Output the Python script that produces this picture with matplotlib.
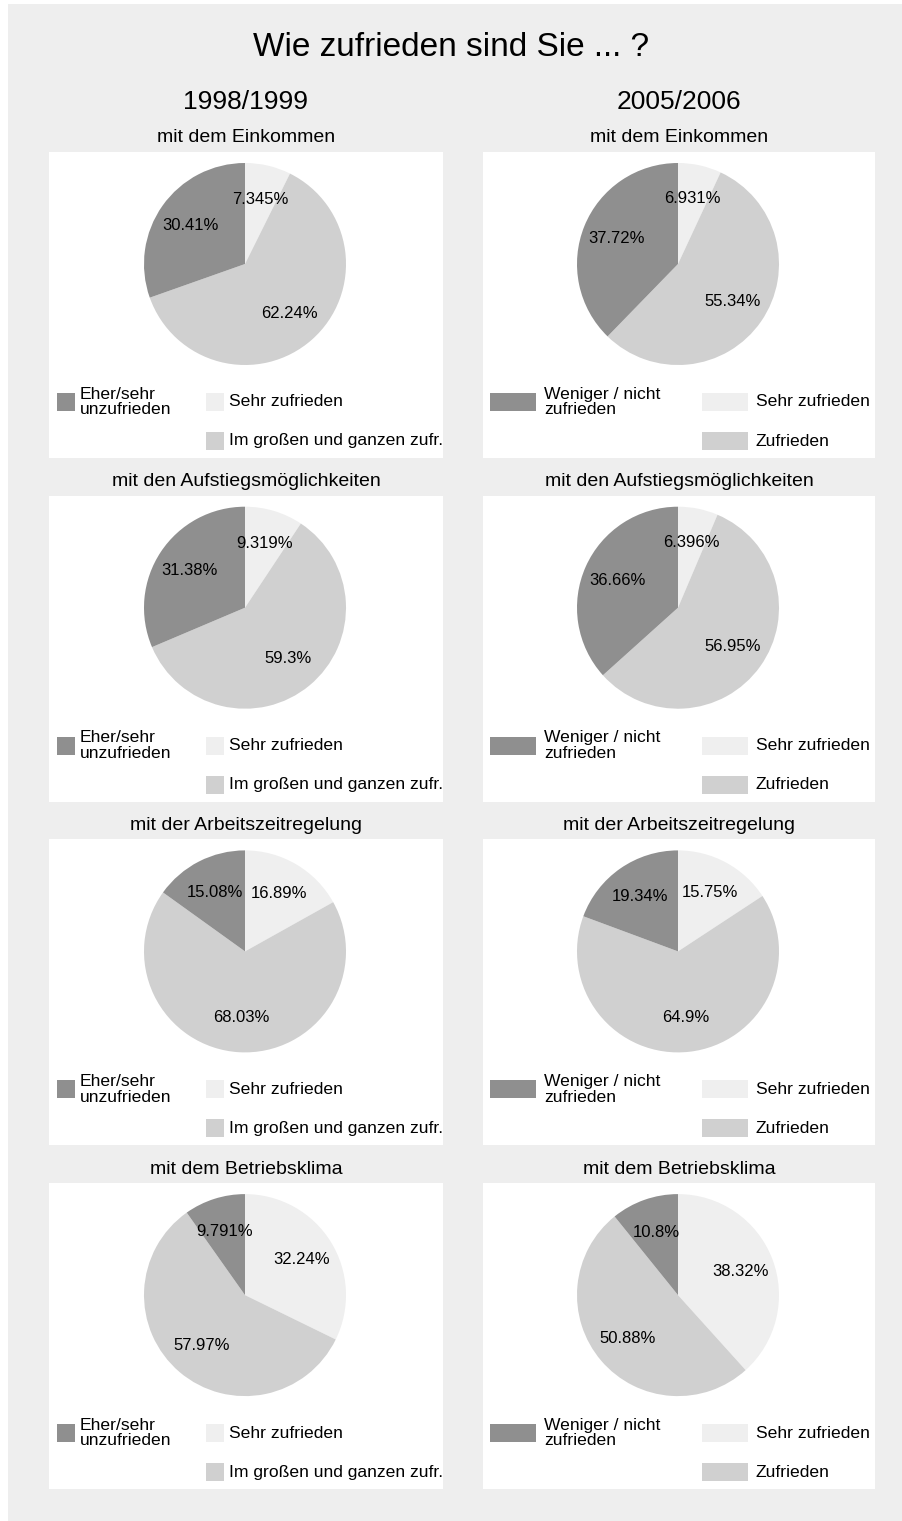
import matplotlib
matplotlib.use('Agg')
import matplotlib.pyplot as plt
from matplotlib.patches import Rectangle

plt.rcParams['font.family'] = ['Liberation Sans', 'DejaVu Sans']

# --- data -------------------------------------------------------------
title = 'Wie zufrieden sind Sie ... ?'
periods = ['1998/1999', '2005/2006']
topics = ['mit dem Einkommen', 'mit den Aufstiegsmöglichkeiten',
          'mit der Arbeitszeitregelung', 'mit dem Betriebsklima']

# slice order (clockwise from 12 o'clock): sehr zufrieden, zufrieden, unzufrieden
sehr_98 = [7.345, 9.319, 16.89, 32.24]
mittel_98 = [62.24, 59.3, 68.03, 57.97]
unzufr_98 = [30.41, 31.38, 15.08, 9.791]

sehr_05 = [6.931, 6.396, 15.75, 38.32]
mittel_05 = [55.34, 56.95, 64.9, 50.88]
unzufr_05 = [37.72, 36.66, 19.34, 10.8]

labels_98 = ['Sehr zufrieden', 'Im großen und ganzen zufr.', 'Eher/sehr\nunzufrieden']
labels_05 = ['Sehr zufrieden', 'Zufrieden', 'Weniger / nicht\nzufrieden']

colors = ['#efefef', '#d0d0d0', '#8f8f8f']
bg = '#eeeeee'

# --- layout (pixels) --------------------------------------------------
W, H = 903, 1521
fig = plt.figure(figsize=(W / 100, H / 100), dpi=100, facecolor=bg)


def fx(x):
    return x / W


def fy(y):
    return 1 - y / H


# thin white strips on the left and top edge
fig.patches.append(Rectangle((0, 0), fx(8), 1, transform=fig.transFigure,
                             facecolor='white', edgecolor='none', zorder=-10))
fig.patches.append(Rectangle((0, fy(4)), 1, 4 / H, transform=fig.transFigure,
                             facecolor='white', edgecolor='none', zorder=-10))

fig.text(0.5, fy(47), title, ha='center', va='center', fontsize=24)

col_left = [49, 483]
col_width = [394, 392]
panel_h = 306
row_tops = [152 + i * 343.7 for i in range(4)]
pie_r = 101

# legend key geometry per column: (patch width, dark x, light x, text gap)
key_geo = [(18, 8, 157, 5), (46, 7, 219, 8)]

data = [(sehr_98, mittel_98, unzufr_98, labels_98),
        (sehr_05, mittel_05, unzufr_05, labels_05)]

for c in range(2):
    x0 = col_left[c]
    w = col_width[c]
    fig.text(fx(x0 + w / 2), fy(102), periods[c], ha='center', va='center', fontsize=19)
    sehr, mittel, unzufr, labels = data[c]
    kw, dark_x, light_x, gap = key_geo[c]
    for r in range(4):
        top = row_tops[r]
        fig.text(fx(x0 + w / 2), fy(top - 14), topics[r], ha='center', va='center',
                 fontsize=14)

        pan = fig.add_axes([fx(x0), fy(top + panel_h), w / W, panel_h / H])
        pan.set_facecolor('white')
        pan.set_xlim(0, w)
        pan.set_ylim(panel_h, 0)
        pan.set_xticks([])
        pan.set_yticks([])
        for s in pan.spines.values():
            s.set_visible(False)

        cx = x0 + w / 2 - 1
        cy = top + 112
        pax = fig.add_axes([fx(cx - pie_r), fy(cy + pie_r), 2 * pie_r / W, 2 * pie_r / H])
        vals = [sehr[r], mittel[r], unzufr[r]]
        wedges, texts, autotexts = pax.pie(vals, colors=colors, startangle=90,
                                           counterclock=False, autopct='%1.1f',
                                           pctdistance=0.66,
                                           wedgeprops=dict(linewidth=0))
        for t, v in zip(autotexts, vals):
            t.set_text(f'{v:.4g}%')
            t.set_fontsize(12)
        pax.set_xlim(-1, 1)
        pax.set_ylim(-1, 1)
        pax.set_aspect('equal')

        # legend keys
        kh = 18
        keys = [(light_x, 250, 0), (light_x, 289, 1), (dark_x, 250, 2)]
        for kx, ky, i in keys:
            pan.add_patch(Rectangle((kx, ky - kh / 2), kw, kh, facecolor=colors[i],
                                    edgecolor='none'))
            pan.text(kx + kw + gap, ky, labels[i], ha='left', va='center',
                     fontsize=12.6, linespacing=1.05)

fig.savefig('out.png', dpi=100, facecolor=bg)
